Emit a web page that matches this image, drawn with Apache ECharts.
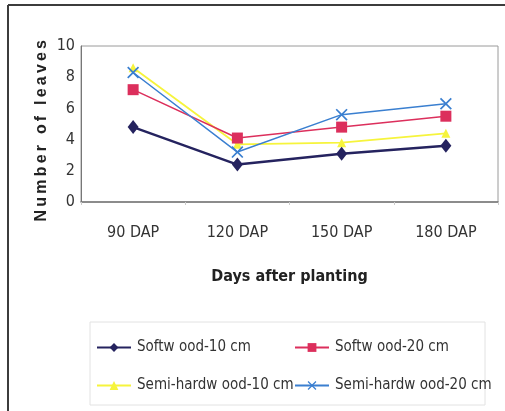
<!DOCTYPE html>
<html>
<head>
<meta charset="utf-8">
<script src="https://cdn.jsdelivr.net/npm/echarts@6/dist/echarts.min.js"></script>
<style>
  html, body { margin: 0; padding: 0; background: #fff; }
  #chart { width: 505px; height: 411px; }
</style>
</head>
<body>
<div id="chart"></div>
<script>
// Leaf counts of cuttings over time
const categories = ['90 DAP', '120 DAP', '150 DAP', '180 DAP'];
const seriesNames = ['Softw ood-10 cm', 'Softw ood-20 cm', 'Semi-hardw ood-10 cm', 'Semi-hardw ood-20 cm'];
const softwood10 = [4.8, 2.4, 3.1, 3.6];
const softwood20 = [7.2, 4.1, 4.8, 5.5];
const semiHardwood10 = [8.6, 3.7, 3.8, 4.4];
const semiHardwood20 = [8.3, 3.2, 5.6, 6.3];
const yTicks = { min: 0, max: 10, interval: 2 };
const yTitle = 'N\u2009u\u2009m\u2009b\u2009e\u2009r\u2009 \u2009o\u2009f\u2009 \u2009l\u2009e\u2009a\u2009v\u2009e\u2009s';

const narrow = '"Liberation Sans Narrow", "DejaVu Sans Condensed", "Liberation Sans", sans-serif';
const crossPath = 'path://M0,1 L1,0 L5,4 L9,0 L10,1 L6,5 L10,9 L9,10 L5,6 L1,10 L0,9 L4,5 Z';

const styles = [
  { color: '#25235f', symbol: 'diamond', size: [11, 14], width: 2.5 },
  { color: '#dc2f5c', symbol: 'rect', size: 11, width: 1.5 },
  { color: '#f6f43c', symbol: 'triangle', size: 9, width: 1.8 },
  { color: '#3a7fd0', symbol: crossPath, size: 12, width: 1.5 }
];
const values = [softwood10, softwood20, semiHardwood10, semiHardwood20];

const series = values.map((v, i) => ({
  name: seriesNames[i],
  type: 'line',
  data: v,
  symbol: styles[i].symbol,
  symbolSize: styles[i].size,
  showAllSymbol: true,
  lineStyle: { color: styles[i].color, width: styles[i].width },
  itemStyle: { color: styles[i].color },
  z: i === 3 ? 5 : 4 - i,
  animation: false
}));

const legendPos = [
  { left: 96, top: 340 },
  { left: 294, top: 340 },
  { left: 96, top: 378 },
  { left: 294, top: 378 }
];
const legends = seriesNames.map((n, i) => ({
  data: [n],
  left: legendPos[i].left,
  top: legendPos[i].top,
  padding: 0,
  itemWidth: 34,
  itemHeight: 11,
  itemGap: 4,
  textStyle: { fontFamily: narrow, fontSize: 15, color: '#333', padding: [0, 0, 0, 1] },
  selectedMode: false
}));

const chart = echarts.init(document.getElementById('chart'), null, { renderer: 'canvas' });
chart.setOption({
  backgroundColor: '#fff',
  animation: false,
  grid: {
    left: 81, right: 7, top: 46, bottom: 209,
    show: true, borderColor: '#9a9a9a', borderWidth: 1, backgroundColor: 'transparent'
  },
  xAxis: {
    type: 'category',
    data: categories,
    boundaryGap: true,
    axisLine: { show: true, lineStyle: { color: '#777', width: 1.5 } },
    axisTick: { show: true, length: 3, inside: false, lineStyle: { color: '#ccc' } },
    axisLabel: { fontFamily: narrow, fontSize: 16, color: '#333', margin: 23 },
    name: 'Days after planting',
    nameLocation: 'middle',
    nameGap: 67,
    nameTextStyle: { fontFamily: narrow, fontSize: 16, fontWeight: 'bold', color: '#222' }
  },
  yAxis: {
    type: 'value',
    min: yTicks.min, max: yTicks.max, interval: yTicks.interval,
    splitLine: { show: false },
    axisLine: { show: true, lineStyle: { color: '#777', width: 1 } },
    axisTick: { show: false },
    axisLabel: { fontFamily: narrow, fontSize: 16, color: '#333', margin: 6 }
  },
  legend: legends,
  graphic: [
    {
      type: 'text', left: 34, top: 40, rotation: Math.PI / 2, z: 10,
      style: {
        text: yTitle,
        font: 'bold 16px "Liberation Sans", Arial, sans-serif',
        fill: '#222'
      }
    },
    {
      type: 'line', z: -1,
      shape: { x1: 8, y1: 5, x2: 505, y2: 5 },
      style: { stroke: '#3c3c3c', lineWidth: 2 }
    },
    {
      type: 'line', z: -1,
      shape: { x1: 8, y1: 5, x2: 8, y2: 411 },
      style: { stroke: '#3c3c3c', lineWidth: 2 }
    },
    {
      type: 'rect', z: -1,
      shape: { x: 90, y: 322, width: 395, height: 83 },
      style: { fill: 'none', stroke: '#e2e2e2', lineWidth: 1 }
    }
  ],
  series: series
});
</script>
</body>
</html>
